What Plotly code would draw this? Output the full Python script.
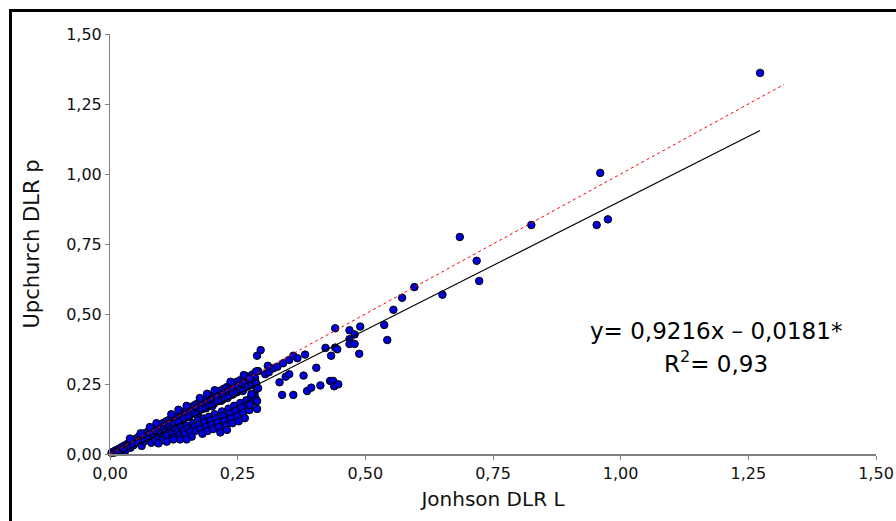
import plotly.graph_objects as go

# Johnson DLR L (x) vs Upchurch DLR p (y) -- observations
johnson_x = [
    # band close to the identity line
    0.003, 0.006, 0.009, 0.011, 0.014, 0.017, 0.019, 0.022, 0.026, 0.028,
    0.031, 0.034, 0.037, 0.040, 0.042, 0.046, 0.048, 0.052, 0.055, 0.057,
    0.061, 0.063, 0.066, 0.069, 0.072, 0.075, 0.078, 0.080, 0.083, 0.087,
    0.090, 0.092, 0.095, 0.098, 0.101, 0.104, 0.107, 0.110, 0.112, 0.116,
    0.118, 0.121, 0.125, 0.127, 0.131, 0.133, 0.136, 0.139, 0.142, 0.144,
    0.147, 0.150, 0.153, 0.156, 0.158, 0.161, 0.164, 0.167, 0.170, 0.172,
    0.175, 0.178, 0.181, 0.184, 0.186, 0.189, 0.192, 0.195, 0.198, 0.200,
    0.203, 0.206, 0.209, 0.212, 0.214, 0.217, 0.221, 0.223, 0.226, 0.229,
    0.232, 0.235, 0.238, 0.241, 0.244, 0.247, 0.251, 0.254, 0.258, 0.262,
    0.265, 0.270, 0.274, 0.279, 0.284, 0.290, 0.060, 0.091, 0.039, 0.120,
    0.150, 0.176, 0.205, 0.236, 0.262, 0.078, 0.134, 0.190,
    # points around the fitted line
    0.105, 0.115, 0.125, 0.135, 0.145, 0.155, 0.165, 0.173, 0.180, 0.188,
    0.195, 0.203, 0.210, 0.218, 0.225, 0.233, 0.240, 0.248, 0.255, 0.262,
    0.270, 0.278, 0.285, 0.170, 0.200, 0.230, 0.260,
    # scattered band below the identity line
    0.030, 0.040, 0.046, 0.055, 0.062, 0.068, 0.075, 0.081, 0.086, 0.088,
    0.095, 0.100, 0.104, 0.108, 0.111, 0.118, 0.121, 0.124, 0.128, 0.133,
    0.137, 0.140, 0.144, 0.147, 0.150, 0.152, 0.157, 0.160, 0.163, 0.166,
    0.168, 0.172, 0.175, 0.178, 0.181, 0.184, 0.186, 0.189, 0.191, 0.194,
    0.197, 0.199, 0.202, 0.205, 0.208, 0.211, 0.213, 0.216, 0.219, 0.221,
    0.224, 0.227, 0.229, 0.232, 0.235, 0.237, 0.240, 0.243, 0.246, 0.249,
    0.252, 0.255, 0.258, 0.261, 0.264, 0.267, 0.270, 0.273, 0.276, 0.280,
    0.283, 0.287, 0.137, 0.150, 0.104, 0.095, 0.111, 0.124,
    # sparse region
    0.274, 0.274, 0.277, 0.286, 0.288, 0.288, 0.286, 0.290, 0.288, 0.295,
    0.286, 0.304, 0.311, 0.309, 0.320, 0.328, 0.339, 0.351, 0.359, 0.367,
    0.332, 0.344, 0.351, 0.337, 0.359, 0.379, 0.382, 0.386, 0.394, 0.404,
    0.412, 0.422, 0.431, 0.437, 0.439, 0.447, 0.433, 0.441, 0.445, 0.441,
    0.469, 0.490, 0.479, 0.469, 0.469, 0.479, 0.488, 0.537, 0.543, 0.555,
    0.572, 0.596, 0.651, 0.685, 0.718, 0.723, 0.825, 0.953, 0.975, 0.960,
    1.273,
]
upchurch_y = [
    0.004, 0.008, 0.005, 0.013, 0.010, 0.018, 0.014, 0.024, 0.021, 0.030,
    0.027, 0.036, 0.031, 0.043, 0.038, 0.049, 0.044, 0.056, 0.050, 0.063,
    0.057, 0.068, 0.061, 0.075, 0.067, 0.081, 0.073, 0.087, 0.078, 0.093,
    0.084, 0.099, 0.090, 0.104, 0.095, 0.111, 0.101, 0.117, 0.106, 0.122,
    0.112, 0.128, 0.118, 0.135, 0.124, 0.140, 0.129, 0.147, 0.135, 0.152,
    0.140, 0.158, 0.146, 0.163, 0.151, 0.170, 0.157, 0.176, 0.162, 0.181,
    0.168, 0.187, 0.173, 0.193, 0.179, 0.198, 0.184, 0.204, 0.190, 0.210,
    0.196, 0.216, 0.201, 0.222, 0.206, 0.227, 0.212, 0.233, 0.218, 0.239,
    0.224, 0.245, 0.229, 0.251, 0.236, 0.257, 0.242, 0.263, 0.249, 0.270,
    0.255, 0.277, 0.262, 0.284, 0.271, 0.296, 0.074, 0.110, 0.055, 0.142,
    0.172, 0.200, 0.228, 0.258, 0.282, 0.096, 0.158, 0.215,
    0.088, 0.095, 0.108, 0.115, 0.127, 0.132, 0.145, 0.150, 0.160, 0.163,
    0.172, 0.178, 0.188, 0.190, 0.198, 0.207, 0.212, 0.220, 0.228, 0.232,
    0.241, 0.247, 0.256, 0.140, 0.170, 0.200, 0.225,
    0.012, 0.022, 0.031, 0.039, 0.029, 0.046, 0.052, 0.040, 0.058, 0.048,
    0.063, 0.072, 0.056, 0.079, 0.066, 0.086, 0.073, 0.060, 0.091, 0.079,
    0.068, 0.097, 0.085, 0.072, 0.102, 0.091, 0.080, 0.062, 0.110, 0.097,
    0.083, 0.120, 0.105, 0.089, 0.072, 0.127, 0.113, 0.098, 0.082, 0.133,
    0.119, 0.105, 0.089, 0.142, 0.127, 0.112, 0.096, 0.077, 0.152, 0.135,
    0.119, 0.101, 0.086, 0.162, 0.144, 0.127, 0.110, 0.172, 0.154, 0.136,
    0.117, 0.182, 0.166, 0.147, 0.128, 0.192, 0.176, 0.157, 0.202, 0.187,
    0.212, 0.232, 0.052, 0.052, 0.050, 0.038, 0.044, 0.052,
    0.270, 0.175, 0.214, 0.195, 0.189, 0.161, 0.250, 0.235, 0.351, 0.371,
    0.295, 0.285, 0.292, 0.315, 0.306, 0.312, 0.324, 0.336, 0.351, 0.342,
    0.256, 0.276, 0.285, 0.211, 0.211, 0.280, 0.355, 0.225, 0.237, 0.308,
    0.245, 0.379, 0.261, 0.261, 0.242, 0.249, 0.351, 0.380, 0.374, 0.449,
    0.442, 0.455, 0.427, 0.410, 0.393, 0.393, 0.358, 0.461, 0.407, 0.515,
    0.558, 0.596, 0.569, 0.775, 0.690, 0.618, 0.818, 0.818, 0.838, 1.004,
    1.361,
]

# Fitted regression y = slope * x + intercept
slope = 0.9216
intercept = -0.0181
fit_x = [0.0196, 1.273]
fit_y = [slope * v + intercept for v in fit_x]

# Identity line y = x
ident_x = [0.0, 1.32]
ident_y = [0.0, 1.32]

tick_vals = [0.0, 0.25, 0.5, 0.75, 1.0, 1.25, 1.5]
tick_text = ["0,00", "0,25", "0,50", "0,75", "1,00", "1,25", "1,50"]

FONT = "DejaVu Sans, Verdana, sans-serif"

fig = go.Figure()
fig.add_trace(go.Scatter(
    x=johnson_x, y=upchurch_y, mode="markers",
    marker=dict(size=7.5, color="#0000dd", line=dict(color="#000000", width=1)),
    cliponaxis=False, showlegend=False,
))
fig.add_trace(go.Scatter(
    x=fit_x, y=fit_y, mode="lines",
    line=dict(color="#000000", width=1.2), showlegend=False,
))
fig.add_trace(go.Scatter(
    x=ident_x, y=ident_y, mode="lines",
    line=dict(color="#ff0000", width=1, dash="dot"), showlegend=False,
))

axis_common = dict(
    range=[0, 1.5], tickvals=tick_vals, ticktext=tick_text,
    showgrid=False, zeroline=False, showline=True, automargin=False,
    linecolor="#808080", ticks="outside", ticklen=4, tickcolor="#808080",
    tickfont=dict(family=FONT, size=16, color="#111111"),
)

fig.update_xaxes(**axis_common, linewidth=2,
                 title=dict(text="Jonhson DLR L", standoff=10,
                            font=dict(family=FONT, size=20, color="#111111")))
fig.update_yaxes(**axis_common, linewidth=1,
                 title=dict(text="Upchurch DLR p", standoff=20,
                            font=dict(family=FONT, size=21, color="#111111")))

fig.add_annotation(
    x=0.791, y=0.293, xref="paper", yref="paper", xanchor="center", yanchor="middle",
    text="y= 0,9216x \u2013 0,0181*", showarrow=False,
    font=dict(family=FONT, size=23, color="#000000"),
)
fig.add_annotation(
    x=0.791, y=0.219, xref="paper", yref="paper", xanchor="center", yanchor="middle",
    text="R<sup>2</sup>= 0,93", showarrow=False,
    font=dict(family=FONT, size=23, color="#000000"),
)

# outer frame around the chart
fig.add_shape(
    type="rect", xref="paper", yref="paper",
    x0=-0.1299, y0=-0.2, x1=1.2, y1=1.056,
    line=dict(color="#000000", width=3), fillcolor="rgba(0,0,0,0)",
)

fig.update_layout(
    width=896, height=521,
    margin=dict(l=110, r=20, t=34, b=67),
    paper_bgcolor="#ffffff", plot_bgcolor="#ffffff",
)

fig.write_html("out.html")
